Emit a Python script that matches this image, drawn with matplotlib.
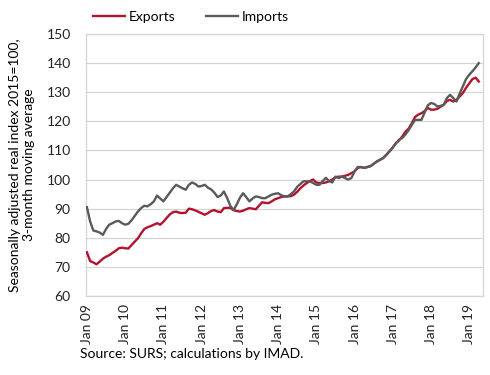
import matplotlib
matplotlib.use('Agg')
import matplotlib.pyplot as plt
import numpy as np

plt.rcParams['font.family'] = ['Lato', 'DejaVu Sans']
plt.rcParams['font.size'] = 10

# monthly data, Jan 2009 - Apr 2019
exports = [
    75.0, 72.0, 71.5, 70.9, 71.8, 72.8, 73.5, 74.0, 74.8, 75.5, 76.4, 76.6,
    76.4, 76.3, 77.5, 78.7, 79.8, 81.5, 83.0, 83.6, 84.0, 84.5, 85.0, 84.5,
    85.5, 86.8, 88.0, 88.8, 89.0, 88.6, 88.5, 88.6, 90.0, 89.8, 89.4, 88.9,
    88.4, 87.9, 88.5, 89.2, 89.5, 89.0, 88.8, 90.2, 90.3, 90.3, 89.5, 89.2,
    89.0, 89.3, 89.8, 90.2, 90.0, 89.8, 91.0, 92.2, 92.0, 91.9, 92.5, 93.2,
    93.6, 94.0, 94.2, 94.2, 94.3, 94.8, 95.8, 97.0, 98.0, 98.8, 99.5, 100.0,
    99.0, 98.8, 98.8, 99.0, 99.4, 100.0, 100.8, 101.0, 101.0, 101.3, 101.6, 102.2,
    102.8, 104.0, 104.3, 104.0, 104.3, 104.6, 105.4, 106.2, 106.8, 107.4, 108.5, 109.7,
    111.0, 112.5, 113.5, 114.8, 116.5, 117.5, 119.4, 121.5, 122.3, 122.8, 123.5, 124.6,
    124.0, 124.0, 124.3, 125.0, 125.7, 127.0, 127.4, 126.8, 127.4, 128.5, 129.7, 131.5,
    133.0, 134.5, 135.0, 133.7,
]
imports = [
    90.5, 85.6, 82.5, 82.2, 81.8, 81.0, 83.0, 84.5, 85.0, 85.6, 85.8, 85.0,
    84.5, 84.8, 86.0, 87.5, 89.0, 90.2, 91.0, 90.8, 91.5, 92.5, 94.5, 93.5,
    92.5, 94.0, 95.5, 97.0, 98.2, 97.6, 97.0, 96.5, 98.2, 99.0, 98.5, 97.6,
    97.8, 98.2, 97.2, 96.6, 95.5, 94.0, 94.5, 95.9, 93.7, 91.0, 89.5, 91.4,
    93.7, 95.3, 94.0, 92.5, 93.5, 94.2, 94.0, 93.6, 93.6, 94.2, 94.8, 95.1,
    95.3, 94.6, 94.2, 94.2, 95.0, 95.9, 97.5, 98.5, 99.4, 99.4, 99.4, 98.8,
    98.2, 98.2, 99.5, 100.6, 99.5, 99.0, 101.0, 100.5, 101.0, 100.5, 100.0, 100.5,
    102.8, 104.3, 104.3, 104.0, 104.3, 104.6, 105.4, 106.2, 106.8, 107.4, 108.5, 109.7,
    111.0, 112.5, 113.7, 114.3, 115.5, 117.0, 118.8, 120.5, 120.5, 120.5, 123.0, 125.5,
    126.3, 126.0, 125.1, 125.3, 125.7, 128.0, 129.1, 128.0, 126.8, 129.5, 132.0, 134.5,
    136.0, 137.2, 138.5, 140.0,
]
years = ['09', '10', '11', '12', '13', '14', '15', '16', '17', '18', '19']
tick_labels = [f'Jan {y}' for y in years]

fig = plt.figure(figsize=(4.9, 3.75), dpi=100)
ax = fig.add_axes([0.1755, 0.2107, 0.81, 0.6986])

x = np.arange(len(exports))
ax.plot(x, exports, color='#B5122D', lw=1.7, label='Exports', zorder=3)
ax.plot(x, imports, color='#5A5A5A', lw=1.7, label='Imports', zorder=3)

ax.set_ylim(60, 150)
ax.set_yticks(range(60, 151, 10))
ax.set_xlim(-0.3, 124.3)
ax.set_xticks(np.arange(0, 121, 12))
ax.set_xticklabels(tick_labels, rotation=90)
ax.tick_params(length=0, colors='#222222')
ax.tick_params(axis='y', pad=11)
ax.tick_params(axis='x', pad=6)
ax.grid(axis='y', color='#D4D4D4', lw=0.9)
ax.set_axisbelow(True)
for s in ax.spines.values():
    s.set_color('#D4D4D4')
    s.set_linewidth(0.9)

ax.set_ylabel('Seasonally adjusted real index 2015=100,\n3-month moving average',
              labelpad=8)

fig.legend(loc='upper left', bbox_to_anchor=(0.165, 1.005), ncol=2, frameon=False,
           handlelength=2.3, columnspacing=2.2, handletextpad=0.25)

fig.text(0.163, 0.045, 'Source: SURS; calculations by IMAD.', fontsize=10)

fig.savefig('out.png', dpi=100)
